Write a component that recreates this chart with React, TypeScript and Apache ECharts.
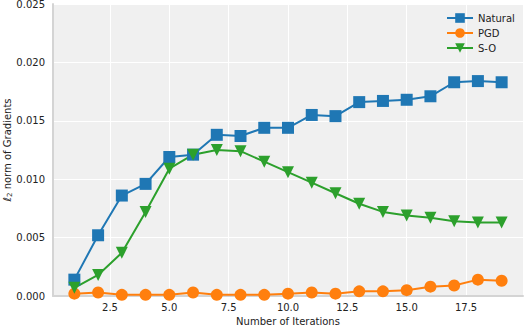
import React, { useEffect, useRef } from "react";
import * as echarts from "echarts";

const iterations = [1, 2, 3, 4, 5, 6, 7, 8, 9, 10, 11, 12, 13, 14, 15, 16, 17, 18, 19];
const naturalValues = [0.0014, 0.0052, 0.0086, 0.0096, 0.0119, 0.0121, 0.0138, 0.0137, 0.0144, 0.0144, 0.0155, 0.0154, 0.0166, 0.0167, 0.0168, 0.0171, 0.0183, 0.0184, 0.0183];
const pgdValues = [0.0002, 0.0003, 0.0001, 0.0001, 0.0001, 0.0003, 0.0001, 0.0001, 0.0001, 0.0002, 0.0003, 0.0002, 0.0004, 0.0004, 0.0005, 0.0008, 0.0009, 0.0014, 0.0013];
const soValues = [0.0007, 0.0018, 0.0037, 0.0072, 0.0109, 0.0121, 0.0125, 0.0124, 0.0115, 0.0106, 0.0097, 0.0088, 0.0079, 0.0072, 0.0069, 0.0067, 0.0064, 0.0063, 0.0063];
const xTicks = [2.5, 5.0, 7.5, 10.0, 12.5, 15.0, 17.5];
const seriesNames = ["Natural", "PGD", "S-O"];
const colors = ["#1f77b4", "#ff7f0e", "#2ca02c"];

const pairs = (vals: number[]) => iterations.map((x, i) => [x, vals[i]]);

export default function App() {
  const ref = useRef<HTMLDivElement>(null);
  useEffect(() => {
    if (!ref.current) return;
    const chart = echarts.init(ref.current, undefined, { renderer: "svg" });
    const font = "DejaVu Sans";
    chart.setOption({
      animation: false,
      textStyle: { fontFamily: font },
      grid: {
        left: 53,
        right: 1,
        top: 4,
        bottom: 32,
        show: true,
        backgroundColor: "#f0f0f0",
        borderWidth: 0,
        containLabel: false,
        outerBoundsMode: "none",
      },
      legend: {
        orient: "vertical",
        left: 441,
        top: 8,
        itemWidth: 26,
        itemHeight: 12,
        itemGap: 5,
        textStyle: { fontSize: 10, color: "#222", fontFamily: font },
        data: seriesNames,
      },
      xAxis: {
        type: "value",
        min: 0.1,
        max: 19.9,
        name: "Number of Iterations",
        nameLocation: "middle",
        nameGap: 20,
        nameMoveOverlap: false,
        nameTextStyle: { fontSize: 10, color: "#222", fontFamily: font },
        axisLine: { show: true, lineStyle: { color: "#d4d4d4", width: 2 } },
        axisTick: { show: false, customValues: xTicks },
        axisLabel: { customValues: xTicks, fontSize: 10, color: "#222", margin: 6, formatter: (v: number) => v.toFixed(1) },
        splitLine: { show: true, lineStyle: { color: "#ffffff", width: 1 } },
      },
      yAxis: {
        type: "value",
        min: 0,
        max: 0.025,
        interval: 0.005,
        name: "{l|ℓ}{s|2} norm of Gradients",
        nameLocation: "middle",
        nameGap: 40,
        nameMoveOverlap: false,
        nameRotate: 90,
        nameTextStyle: {
          fontSize: 10,
          color: "#222",
          fontFamily: font,
          rich: {
            l: { fontSize: 11, fontStyle: "italic", fontFamily: font, color: "#222" },
            s: { fontSize: 7, fontFamily: font, color: "#222", verticalAlign: "bottom", padding: [5, 0, 0, 0] },
          },
        },
        axisLine: { show: true, lineStyle: { color: "#d4d4d4", width: 2 } },
        axisTick: { show: false },
        axisLabel: { fontSize: 10, color: "#222", margin: 8, formatter: (v: number) => v.toFixed(3) },
        splitLine: { show: true, lineStyle: { color: "#ffffff", width: 1 } },
      },
      series: [
        {
          name: seriesNames[0],
          type: "line",
          data: pairs(naturalValues),
          symbol: "rect",
          symbolSize: 12,
          color: colors[0],
          lineStyle: { width: 2 },
          itemStyle: { color: colors[0] },
        },
        {
          name: seriesNames[1],
          type: "line",
          data: pairs(pgdValues),
          symbol: "circle",
          symbolSize: 12,
          color: colors[1],
          lineStyle: { width: 2 },
          itemStyle: { color: colors[1] },
        },
        {
          name: seriesNames[2],
          type: "line",
          data: pairs(soValues),
          symbol: "triangle",
          symbolRotate: 180,
          symbolSize: 12,
          color: colors[2],
          lineStyle: { width: 2 },
          itemStyle: { color: colors[2] },
        },
      ],
    });
    return () => chart.dispose();
  }, []);
  return <div ref={ref} style={{ width: 524, height: 328, position: "absolute", left: 0, top: 0 }} />;
}
